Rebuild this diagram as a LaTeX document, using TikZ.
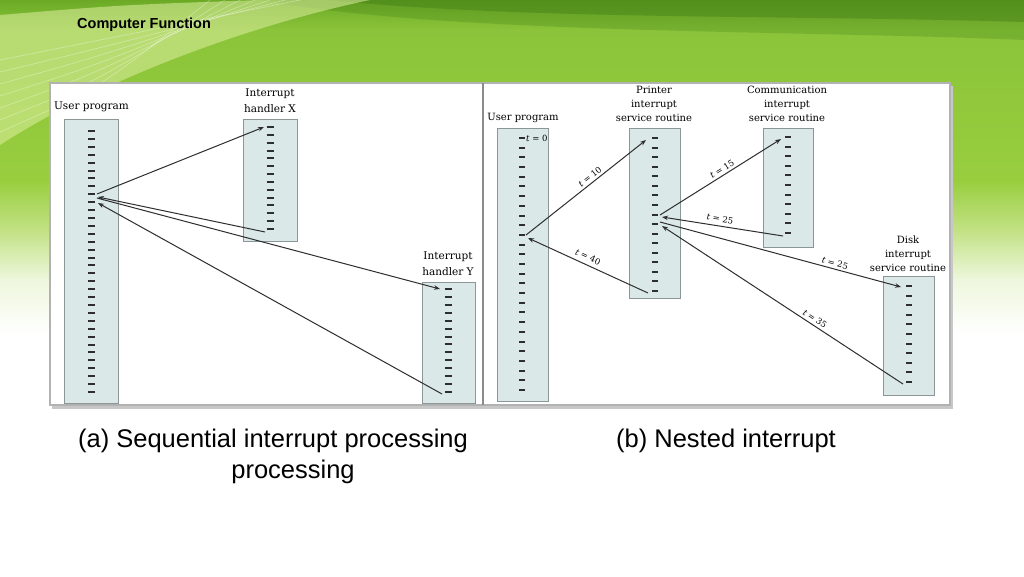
\documentclass[tikz,border=0pt]{standalone}
\usepackage{fontspec}
\setmainfont{DejaVu Serif}
\newfontfamily\capfont{Liberation Sans}
\usetikzlibrary{arrows.meta}
\definecolor{boxfill}{HTML}{DAE8E8}
\definecolor{boxline}{HTML}{8C9696}
\definecolor{ink}{HTML}{2E2E2E}
\definecolor{gdark}{HTML}{3E7A14}
\definecolor{gpale}{HTML}{DDEFA0}
\definecolor{bgA}{HTML}{6CAA26}
\definecolor{bgB}{HTML}{8BC43A}
\definecolor{bgC}{HTML}{98CE3E}
\definecolor{bgD}{HTML}{C2E184}
\definecolor{bgE}{HTML}{EEF7DD}
\pgfdeclareverticalshading{bgshade}{100bp}{color(0bp)=(white); color(25bp)=(white); color(33.2bp)=(bgE); color(40.7bp)=(bgD); color(48.1bp)=(bgC); color(70.5bp)=(bgB); color(75bp)=(bgA); color(100bp)=(bgA)}
\begin{document}
\begin{tikzpicture}[x=1pt,y=-1pt,
  pbox/.style={draw=boxline, fill=boxfill, line width=0.8pt, inner sep=0pt},
  tickmark/.style={draw=ink, line width=1.8pt},
  arr/.style={draw=ink, line width=1pt, -{Stealth[length=6pt,width=4.5pt]}},
  lblL/.style={font=\fontsize{10.5}{16}\selectfont, align=center, inner sep=0pt},
  lblR/.style={font=\fontsize{10}{14}\selectfont, align=center, inner sep=0pt},
  tlab/.style={font=\fontsize{8.5}{10}\selectfont, inner sep=0pt},
  captxt/.style={font=\capfont\fontsize{25.5}{30}\selectfont, inner sep=0pt},
]
\useasboundingbox (0,0) rectangle (1024,576);
% ---------- background ----------
\fill[white] (0,0) rectangle (1024,576);
\shade[shading=bgshade] (0,0) rectangle (1024,335);
\fill[gdark, opacity=0.25] (260,0) .. controls (450,35) and (800,30) .. (1024,40) -- (1024,0) -- cycle;
\fill[gdark, opacity=0.4] (330,0) .. controls (520,20) and (800,15) .. (1024,22) -- (1024,0) -- cycle;
\fill[gpale, opacity=0.55] (0,15) .. controls (120,5) .. (260,0) -- (370,0) .. controls (250,25) and (100,80) .. (0,145) -- cycle;
\foreach \k in {0,...,6} {
  \draw[white, opacity=0.35, line width=0.6pt] (0,60+\k*12) .. controls (100,40+\k*8) .. (300-\k*15,0);
}
% ---------- title ----------
\node[anchor=west, font=\capfont\bfseries\fontsize{14.5}{16}\selectfont, inner sep=0pt] (title) at (77,25) {Computer Function};
% ---------- panel ----------
\fill[black!22] (52,86) rectangle (953,409);
\fill[white] (50,83) rectangle (950,405);
\draw[black!30, line width=1.5pt] (50,83) rectangle (950,405);
\draw[black!45, line width=2pt] (483,83) -- (483,405);
% ---------- (a) sequential ----------
\node[pbox, minimum width=54pt, minimum height=284pt] (U1) at (91,261) {};
\node[pbox, minimum width=54pt, minimum height=122pt] (HX) at (270,180) {};
\node[pbox, minimum width=53pt, minimum height=121pt] (HY) at (448.5,342.5) {};
\node[lblL] (U1lab) at (91.5,106.5) {User program};
\node[lblL] (HXlab) at (270,100.5) {Interrupt\\handler X};
\node[lblL] (HYlab) at (448,263.5) {Interrupt\\handler Y};
\foreach \i in {1,...,34} {
  \pgfmathsetmacro\yy{round(131+(\i-1)*7.909)}
  \draw[tickmark] (88,\yy) -- (95,\yy);
  \coordinate (u1t\i) at (91.5,\yy);
}
\foreach \i in {1,...,14} {
  \pgfmathsetmacro\yy{round(127+(\i-1)*7.846)}
  \draw[tickmark] (266.5,\yy) -- (273.5,\yy);
  \coordinate (hxt\i) at (270,\yy);
  \pgfmathsetmacro\zz{round(289+(\i-1)*7.923)}
  \draw[tickmark] (444.5,\zz) -- (451.5,\zz);
  \coordinate (hyt\i) at (448,\zz);
}
\coordinate (a1s) at (97,194);
\coordinate (a1e) at (264,127);
\coordinate (a2s) at (265,232);
\coordinate (a2e) at (98,197);
\coordinate (a3s) at (97,198);
\coordinate (a3e) at (440,289);
\coordinate (a4s) at (442,394);
\coordinate (a4e) at (98,203);
\draw[arr] (a1s) -- (a1e);
\draw[arr] (a2s) -- (a2e);
\draw[arr] (a3s) -- (a3e);
\draw[arr] (a4s) -- (a4e);
% ---------- (b) nested ----------
\node[pbox, minimum width=51pt, minimum height=273pt] (U2) at (522.5,264.5) {};
\node[pbox, minimum width=51pt, minimum height=170pt] (PR) at (654.5,213) {};
\node[pbox, minimum width=50pt, minimum height=119pt] (CM) at (788,187.5) {};
\node[pbox, minimum width=51pt, minimum height=119pt] (DK) at (908.5,335.5) {};
\node[lblR] (U2lab) at (523,118) {User program};
\node[lblR] (PRlab) at (654,104) {Printer\\interrupt\\service routine};
\node[lblR] (CMlab) at (787,104) {Communication\\interrupt\\service routine};
\node[lblR] (DKlab) at (908,254) {Disk\\interrupt\\service routine};
\foreach \i in {1,...,27} {
  \pgfmathsetmacro\yy{round(138+(\i-1)*9.692)}
  \draw[tickmark] (519,\yy) -- (525,\yy);
  \coordinate (u2t\i) at (522,\yy);
}
\foreach \i in {1,...,17} {
  \pgfmathsetmacro\yy{round(138+(\i-1)*9.5625)}
  \draw[tickmark] (652,\yy) -- (658,\yy);
  \coordinate (prt\i) at (655,\yy);
}
\foreach \i in {1,...,11} {
  \pgfmathsetmacro\yy{round(137+(\i-1)*9.6)}
  \draw[tickmark] (785,\yy) -- (791,\yy);
  \coordinate (cmt\i) at (788,\yy);
  \pgfmathsetmacro\zz{round(286+(\i-1)*9.6)}
  \draw[tickmark] (906,\zz) -- (912,\zz);
  \coordinate (dkt\i) at (909,\zz);
}
\node[tlab, anchor=west] (t0) at (526,138) {\textit{t} = 0};
\coordinate (b1s) at (526,235);
\coordinate (b1e) at (646,140);
\coordinate (b2s) at (648,293);
\coordinate (b2e) at (528,238);
\coordinate (b3s) at (660,215);
\coordinate (b3e) at (781,139);
\coordinate (b4s) at (783,236);
\coordinate (b4e) at (662,217);
\coordinate (b5s) at (660,222);
\coordinate (b5e) at (901,287);
\coordinate (b6s) at (903,384);
\coordinate (b6e) at (662,226);
\draw[arr] (b1s) -- (b1e);
\draw[arr] (b2s) -- (b2e);
\draw[arr] (b3s) -- (b3e);
\draw[arr] (b4s) -- (b4e);
\draw[arr] (b5s) -- (b5e);
\draw[arr] (b6s) -- (b6e);
\node[tlab, rotate=38.4] (l10) at (590,177) {\textit{t} = 10};
\node[tlab, rotate=-24.6] (l40) at (588,257) {\textit{t} = 40};
\node[tlab, rotate=32.1] (l15) at (722,169) {\textit{t} = 15};
\node[tlab, rotate=-8.9] (l25a) at (720,219) {\textit{t} = 25};
\node[tlab, rotate=-15.1] (l25b) at (835,263) {\textit{t} = 25};
\node[tlab, rotate=-33.2] (l35) at (815,319) {\textit{t} = 35};
% ---------- captions ----------
\node[captxt] (capa) at (273,441) {(a) Sequential interrupt processing};
\node[captxt] (capa2) at (293,472) {processing};
\node[captxt] (capb) at (726,441) {(b) Nested interrupt};
\end{tikzpicture}
\end{document}
